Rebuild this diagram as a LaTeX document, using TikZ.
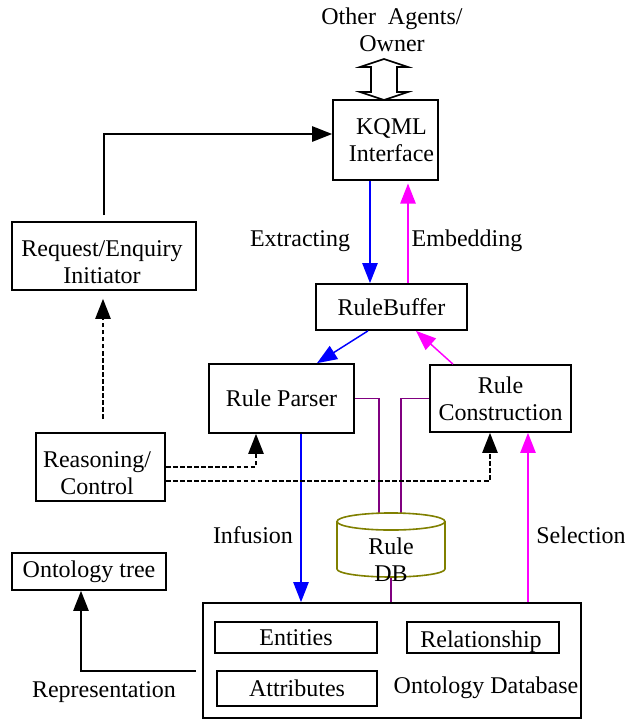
\documentclass[tikz,border=0pt]{standalone}
\usepackage{fontspec}
\setmainfont{Liberation Serif}
\usetikzlibrary{arrows.meta,calc}
\definecolor{mag}{RGB}{255,0,255}
\definecolor{pur}{RGB}{128,0,128}
\definecolor{oli}{RGB}{128,128,0}
\begin{document}
\begin{tikzpicture}[x=0.75pt,y=-0.75pt,
  every node/.style={font=\fontsize{18pt}{20.25pt}\selectfont, align=center},
  box/.style={draw, line width=1.3pt, inner sep=0pt},
  tipa/.style={-{Triangle[length=15pt,width=11.5pt]}},
  blk/.style={tipa, line width=1.2pt},
  blu/.style={tipa, blue, line width=1.1pt},
  mg/.style={tipa, mag, line width=1.1pt},
  pu/.style={pur, line width=1.1pt},
  dsh/.style={tipa, line width=1.2pt, dash pattern=on 3.5pt off 1.8pt}]
\useasboundingbox (0,0) rectangle (625,719);

% boxes
\node[box, minimum width=78.75pt, minimum height=60pt] (kqml) at (385.5,140) {\hspace*{9pt}KQML\\ \hspace*{9pt}Interface};
\node[box, minimum width=138pt, minimum height=51pt] (req) at (104,256) {};
\node (reqt) at (102,262) {Request/Enquiry\\Initiator};
\node[box, minimum width=113.25pt, minimum height=34.5pt] (rb) at (391.5,307) {RuleBuffer};
\node[box, minimum width=108.75pt, minimum height=51.75pt] (parser) at (281.5,398.5) {Rule Parser};
\node[box, minimum width=105.75pt, minimum height=50.25pt] (cons) at (500.5,398.5) {Rule\\Construction};
\node[box, minimum width=96.75pt, minimum height=51pt] (reason) at (100.5,467) {};
\node (reasont) at (97,473) {Reasoning/\\Control};
\node[box, minimum width=115.5pt, minimum height=27.75pt] (otree) at (89,571.5) {Ontology tree};
\node[box, minimum width=283.5pt, minimum height=86.25pt] (odb) at (392,660.5) {};
\node[box, minimum width=121.5pt, minimum height=23.25pt] (ent) at (296,637.5) {Entities};
\node[box, minimum width=114pt, minimum height=23.25pt] (rel) at (483,637.5) {};
\node (relt) at (481,642) {Relationship};
\node[box, minimum width=120pt, minimum height=26.25pt] (att) at (297,688.5) {Attributes};
\node (odbl) at (486,688) {Ontology Database};

% other agents
\node (oth) at (392,30) {Other\ \ Agents/\\Owner};
\coordinate (da) at (384,100);
\draw[line width=1.2pt, fill=white] (384,59) -- (408,67) -- (397,67) -- (397,92) -- (408,92) -- (da) -- (360,92) -- (371,92) -- (371,67) -- (360,67) -- cycle;

% rule db
\coordinate (dbl) at (379,513.2);
\coordinate (dbr) at (401,513.2);
\coordinate (dbb) at (391,577);
\draw[pu] (parser.east) -| (dbl);
\draw[pu] (cons.west) -| (dbr);
\draw[pu] (dbb) -- (odb.north -| dbb);
\draw[oli, line width=1.2pt, fill=white] (391,521.5) ellipse [x radius=40.5pt, y radius=6.4pt];
\draw[oli, line width=1.2pt] (337,521.5) -- (337,569) arc[start angle=180, end angle=360, x radius=40.5pt, y radius=6pt] -- (445,521.5);
\node (db) at (391,559.5) {Rule\\DB};

% x positions
\coordinate (xe) at (370,0);
\coordinate (xm) at (408,0);
\coordinate (xb1) at (368,0);
\coordinate (xb2) at (317,0);
\coordinate (xc1) at (453,0);
\coordinate (xc2) at (416,0);
\coordinate (xi) at (301,0);
\coordinate (xs) at (528,0);
\coordinate (xd1) at (256,0);
\coordinate (xd2) at (490,0);
\coordinate (xr) at (81,0);
\coordinate (xq) at (103,0);

% connectors
\draw[blu] (kqml.south -| xe) -- (rb.north -| xe);
\draw[mg, shorten >=2pt] (rb.north -| xm) -- (kqml.south -| xm);
\draw[blu] (rb.south -| xb1) -- (parser.north -| xb2);
\draw[mg] (cons.north -| xc1) -- (rb.south -| xc2);
\draw[blu] (parser.south -| xi) -- (odb.north -| xi);
\draw[mg] (odb.north -| xs) -- (cons.south -| xs);
\draw[dsh] (reason.east) -| (parser.south -| xd1);
\draw[dsh] ([yshift=-10.5pt]reason.east) -| (cons.south -| xd2);
\draw[dsh, shorten <=9.75pt, shorten >=6pt] (reason.north -| xq) -- (req.south -| xq);
\draw[blk, shorten <=4.5pt] (req.north) |- ([yshift=4.5pt]kqml.west);
\draw[blk, shorten <=4.5pt] ([yshift=-7.9pt]odb.west) -| (otree.south -| xr);

% labels
\node (lext) at (300,241) {Extracting};
\node (lemb) at (467,241) {Embedding};
\node (linf) at (253,535) {Infusion};
\node (lsel) at (581,535) {Selection};
\node (lrep) at (104,692) {Representation};
\end{tikzpicture}
\end{document}
